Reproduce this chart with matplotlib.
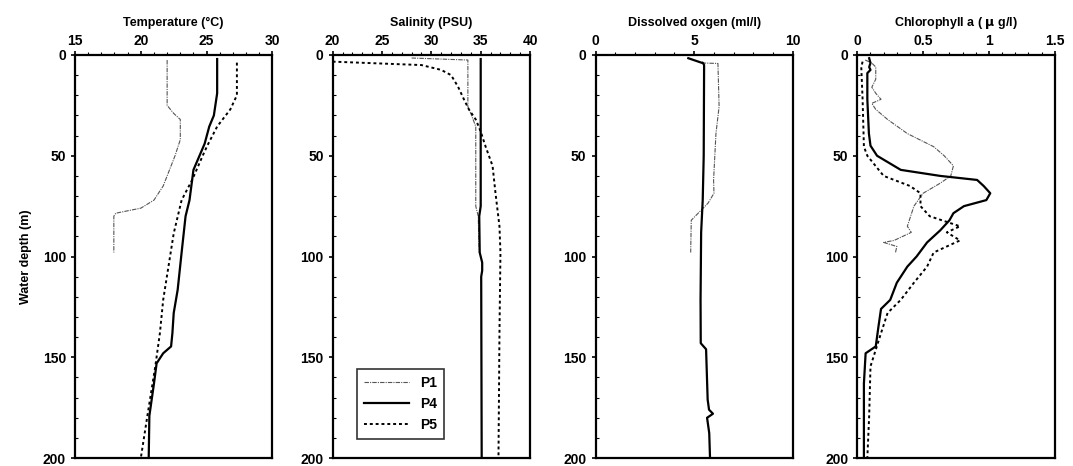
import matplotlib
matplotlib.use('Agg')
import matplotlib.pyplot as plt
from matplotlib.ticker import MultipleLocator, FormatStrFormatter

plt.rcParams['font.family'] = ['Liberation Sans', 'DejaVu Sans']
plt.rcParams['font.weight'] = 'bold'
plt.rcParams['axes.labelweight'] = 'bold'
plt.rcParams['mathtext.default'] = 'bf'

# temperature (degC) vs depth (m)
t_p1_d = [2.5, 25, 29, 32, 42, 50, 65, 72, 76, 78.5, 80, 98]
t_p1_v = [22.0, 22.0, 22.5, 23.0, 23.0, 22.6, 21.7, 21.0, 20.0, 18.1, 17.95, 17.95]
t_p4_d = [2, 19, 30, 35.5, 44, 57, 72, 80, 98, 116.5, 128, 138, 144.6, 148, 153, 163, 179, 200]
t_p4_v = [25.8, 25.8, 25.55, 25.2, 24.85, 24.0, 23.7, 23.4, 23.1, 22.8, 22.5, 22.4, 22.3, 21.7, 21.2, 21.0, 20.65, 20.6]
t_p5_d = [3.8, 20, 27, 35.5, 45, 50, 62, 72, 88.5, 105, 121.5, 138, 154.5, 179, 200]
t_p5_v = [27.3, 27.3, 26.8, 25.8, 25.05, 24.7, 23.9, 23.1, 22.5, 22.1, 21.7, 21.45, 21.1, 20.5, 20.0]

# salinity (PSU)
s_p1_d = [1.5, 2.5, 25.6, 29, 35.5, 75, 80, 98]
s_p1_v = [28.0, 33.7, 33.7, 34.0, 34.5, 34.5, 34.75, 34.85]
s_p4_d = [2, 75, 80, 98, 103, 107, 110, 200]
s_p4_v = [35.0, 35.0, 34.85, 34.9, 35.15, 35.15, 35.05, 35.1]
s_p5_d = [3.3, 5, 7.4, 10, 15.7, 22, 27, 32, 38, 45.5, 55, 68.6, 85, 98, 138, 200]
s_p5_v = [20.0, 29.0, 31.0, 32.0, 32.7, 33.3, 33.8, 34.5, 35.0, 35.5, 36.2, 36.5, 36.9, 37.0, 36.9, 36.8]

# dissolved oxygen (ml/l)
o_p1_d = [3.3, 4, 4.2, 25.6, 39, 62, 68.6, 73.5, 78.5, 82, 98]
o_p1_v = [5.4, 5.5, 6.2, 6.26, 6.1, 5.98, 6.0, 5.7, 5.2, 4.85, 4.82]
o_p4_d = [1.6, 4.1, 5, 50, 72, 88, 121.5, 143, 146, 171, 176, 178, 180, 187.6, 200]
o_p4_v = [4.7, 5.45, 5.5, 5.48, 5.43, 5.35, 5.32, 5.33, 5.6, 5.68, 5.75, 5.95, 5.65, 5.76, 5.8]

# chlorophyll a (ug/l)
c_p1_d = [2.5, 4, 6, 12, 16, 19, 22, 24, 27, 32, 39, 45.5, 50, 55, 60, 63.6, 68.6, 75, 85, 88, 92, 93, 95, 98]
c_p1_v = [0.06, 0.11, 0.14, 0.14, 0.11, 0.14, 0.18, 0.11, 0.14, 0.23, 0.38, 0.58, 0.66, 0.73, 0.71, 0.63, 0.5, 0.43, 0.38, 0.41, 0.28, 0.2, 0.3, 0.29]
c_p4_d = [1.6, 4, 6, 7.4, 9, 22, 39, 45, 50, 57, 60, 62, 65, 68.6, 72, 75, 78.5, 82, 87, 93, 100, 105, 113, 121.5, 126, 135, 144.6, 148, 163, 200]
c_p4_v = [0.09, 0.1, 0.09, 0.1, 0.076, 0.076, 0.088, 0.1, 0.15, 0.33, 0.63, 0.91, 0.96, 1.01, 0.98, 0.81, 0.73, 0.7, 0.63, 0.53, 0.45, 0.38, 0.3, 0.25, 0.18, 0.16, 0.14, 0.063, 0.05, 0.05]
c_p5_d = [3.3, 6, 22, 45.5, 50, 60, 65, 68.6, 75, 80, 85, 88, 92, 98, 105, 113, 121.5, 128, 138, 154.5, 179, 200]
c_p5_v = [0.04, 0.03, 0.04, 0.05, 0.076, 0.2, 0.4, 0.48, 0.48, 0.55, 0.78, 0.68, 0.78, 0.58, 0.53, 0.43, 0.33, 0.23, 0.18, 0.1, 0.09, 0.076]

panels = [
    ('Temperature (°C)', (15, 30), 5, 1, [(t_p1_v, t_p1_d), (t_p4_v, t_p4_d), (t_p5_v, t_p5_d)]),
    ('Salinity (PSU)', (20, 40), 5, 1, [(s_p1_v, s_p1_d), (s_p4_v, s_p4_d), (s_p5_v, s_p5_d)]),
    ('Dissolved oxgen (ml/l)', (0, 10), 5, 1, [(o_p1_v, o_p1_d), (o_p4_v, o_p4_d), None]),
    ('Chlorophyll a ( $\\mu$ g/l)', (0, 1.5), 0.5, 0.1, [(c_p1_v, c_p1_d), (c_p4_v, c_p4_d), (c_p5_v, c_p5_d)]),
]
styles = [dict(color='#555555', lw=0.8, ls=(0, (4, 1, 1, 1)), label='P1'),
          dict(color='black', lw=1.6, ls='-', label='P4'),
          dict(color='black', lw=1.4, ls=(0, (1.5, 1.5)), label='P5')]

fig = plt.figure(figsize=(10.73, 4.66), dpi=100)
lefts = [0.0699, 0.310, 0.555, 0.799]

for i, (title, xlim, major, minor, series) in enumerate(panels):
    ax = fig.add_axes([lefts[i], 0.017, 0.184, 0.865])
    for st, s in zip(styles, series):
        if s is None:
            continue
        ax.plot(s[0], s[1], **st)
    ax.set_xlim(xlim)
    ax.set_ylim(200, 0)
    ax.xaxis.set_ticks_position('top')
    ax.xaxis.set_label_position('top')
    ax.xaxis.set_major_locator(MultipleLocator(major))
    ax.xaxis.set_minor_locator(MultipleLocator(minor))
    ax.xaxis.set_major_formatter(FormatStrFormatter('%g'))
    ax.yaxis.set_major_locator(MultipleLocator(50))
    ax.yaxis.set_minor_locator(MultipleLocator(10))
    ax.tick_params(axis='both', which='major', labelsize=10, length=3, width=1.2)
    ax.tick_params(axis='both', which='minor', length=2, width=0.8)
    ax.tick_params(axis='x', which='both', direction='out', pad=2)
    ax.tick_params(axis='y', which='minor', direction='in')
    ax.set_xlabel(title, fontsize=9, labelpad=6)
    for sp in ax.spines.values():
        sp.set_linewidth(1.6)
    if i == 0:
        ax.set_ylabel('Water depth (m)', fontsize=9, labelpad=8)
    if i == 1:
        ax.legend(loc='lower left', bbox_to_anchor=(0.09, 0.03), fontsize=10,
                  frameon=True, fancybox=False, edgecolor='black',
                  handlelength=3.2, borderpad=0.5, labelspacing=0.5)
        ax.get_legend().get_frame().set_linewidth(1.2)

fig.savefig('out.png', dpi=100)
